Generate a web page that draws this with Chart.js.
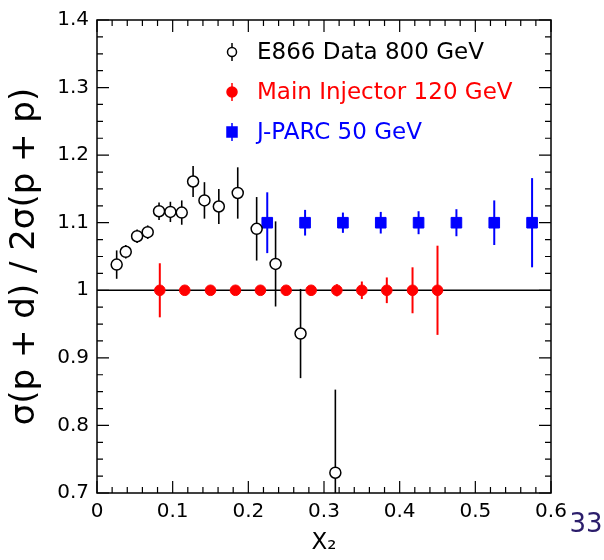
<!DOCTYPE html>
<html>
<head>
<meta charset="utf-8">
<script src="https://cdn.jsdelivr.net/npm/chart.js@4.4.0/dist/chart.umd.min.js"></script>
<style>
    html, body { margin: 0; padding: 0; background: #fff; }
</style>
</head>
<body>
<canvas id="grafica-ratio" width="604" height="560"></canvas>
<script>
// E866, 800 GeV
const e866X = [0.026, 0.038, 0.053, 0.067, 0.082, 0.097, 0.112, 0.127, 0.142, 0.161, 0.186, 0.211, 0.236, 0.269, 0.315];
const e866Y = [1.038, 1.057, 1.080, 1.086, 1.117, 1.116, 1.115, 1.161, 1.133, 1.124, 1.144, 1.091, 1.039, 0.936, 0.730];
const e866Err = [0.021, 0.010, 0.010, 0.010, 0.013, 0.015, 0.018, 0.023, 0.027, 0.026, 0.038, 0.047, 0.063, 0.066, 0.123];

// Main Injector, 120 GeV
const miX = [0.083, 0.116, 0.150, 0.183, 0.216, 0.250, 0.283, 0.317, 0.350, 0.383, 0.417, 0.450];
const miY = [1, 1, 1, 1, 1, 1, 1, 1, 1, 1, 1, 1];
const miErr = [0.040, 0.004, 0.004, 0.004, 0.004, 0.004, 0.005, 0.009, 0.013, 0.019, 0.034, 0.066];

// J-PARC, 50 GeV
const jparcX = [0.225, 0.275, 0.325, 0.375, 0.425, 0.475, 0.525, 0.575];
const jparcY = [1.1, 1.1, 1.1, 1.1, 1.1, 1.1, 1.1, 1.1];
const jparcErr = [0.045, 0.019, 0.015, 0.016, 0.017, 0.020, 0.033, 0.066];

const xTickLabels = ['0', '0.1', '0.2', '0.3', '0.4', '0.5', '0.6'];
const yTickLabels = ['0.7', '0.8', '0.9', '1', '1.1', '1.2', '1.3', '1.4'];
const leyendas = ['E866 Data 800 GeV', 'Main Injector 120 GeV', 'J-PARC 50 GeV'];
const lineaUno = [1, 1];
const numPagina = '33';

const FUENTE = '"DejaVu Sans", sans-serif';

function puntos(xs, ys) {
    return xs.map((x, i) => ({ x: x, y: ys[i] }));
}

// barras de error, a traves de las escalas
const errorBars = {
    id: 'errorBars',
    beforeDatasetsDraw(chart) {
        const { ctx, chartArea, scales } = chart;
        ctx.save();
        ctx.beginPath();
        ctx.rect(chartArea.left, chartArea.top, chartArea.width, chartArea.height);
        ctx.clip();
        chart.data.datasets.forEach(ds => {
            if (!ds.errores) return;
            ctx.strokeStyle = ds.colorError;
            ctx.lineWidth = ds.anchoError;
            ds.data.forEach((p, i) => {
                const px = scales.x.getPixelForValue(p.x);
                ctx.beginPath();
                ctx.moveTo(px, scales.y.getPixelForValue(p.y - ds.errores[i]));
                ctx.lineTo(px, scales.y.getPixelForValue(p.y + ds.errores[i]));
                ctx.stroke();
            });
        });
        ctx.restore();
    }
};

// marco y marcas hacia dentro, estilo ROOT
const marco = {
    id: 'marco',
    afterDatasetsDraw(chart) {
        const { ctx, chartArea: a, scales } = chart;
        ctx.save();
        ctx.strokeStyle = '#000';
        ctx.lineWidth = 1.5;
        ctx.strokeRect(a.left, a.top, a.right - a.left, a.bottom - a.top);
        ctx.lineWidth = 1.2;
        for (let k = 0; k <= 30; k++) {
            const v = k * 0.02;
            const px = scales.x.getPixelForValue(v);
            const largo = k % 5 === 0 ? 12 : 6;
            ctx.beginPath();
            ctx.moveTo(px, a.bottom); ctx.lineTo(px, a.bottom - largo);
            ctx.moveTo(px, a.top); ctx.lineTo(px, a.top + largo);
            ctx.stroke();
        }
        for (let k = 0; k <= 28; k++) {
            const v = 0.7 + k * 0.025;
            const py = scales.y.getPixelForValue(v);
            const largo = k % 4 === 0 ? 12 : 6;
            ctx.beginPath();
            ctx.moveTo(a.left, py); ctx.lineTo(a.left + largo, py);
            ctx.moveTo(a.right, py); ctx.lineTo(a.right - largo, py);
            ctx.stroke();
        }
        ctx.restore();
    }
};

const leyenda = {
    id: 'leyenda',
    afterDraw(chart) {
        const { ctx } = chart;
        ctx.save();
        ctx.font = '23px ' + FUENTE;
        ctx.textBaseline = 'middle';
        leyendas.forEach((nombre, i) => {
            const ds = chart.data.datasets.find(d => d.label === nombre);
            const x = 232, y = 52 + i * 40;
            ctx.strokeStyle = ds.colorError;
            ctx.lineWidth = 1.5;
            ctx.beginPath();
            ctx.moveTo(x, y - 9); ctx.lineTo(x, y + 9);
            ctx.stroke();
            ctx.fillStyle = ds.pointBackgroundColor;
            ctx.strokeStyle = ds.pointBorderColor;
            ctx.lineWidth = 1.5;
            ctx.beginPath();
            if (ds.pointStyle === 'rect') {
                ctx.rect(x - 5, y - 5, 10, 10);
            } else {
                ctx.arc(x, y, ds.pointBackgroundColor === '#ffffff' ? 4.5 : 5, 0, Math.PI * 2);
            }
            ctx.fill();
            ctx.stroke();
            ctx.fillStyle = ds.colorError;
            ctx.fillText(ds.label, 257, y + 1);
        });
        // numero de pagina
        ctx.font = '26px ' + FUENTE;
        ctx.fillStyle = '#2b1d6b';
        ctx.textAlign = 'center';
        ctx.fillText(numPagina, 586, 525);
        ctx.restore();
    }
};

const ctx = document.getElementById('grafica-ratio').getContext('2d');
new Chart(ctx, {
    type: 'scatter',
    data: {
        datasets: [
            {
                label: leyendas[1],
                data: puntos(miX, miY),
                errores: miErr,
                colorError: '#ff0000',
                anchoError: 2,
                pointStyle: 'circle',
                pointRadius: 5.3,
                pointBackgroundColor: '#ff0000',
                pointBorderColor: '#ff0000',
                pointBorderWidth: 1,
                order: 1
            },
            {
                label: leyendas[0],
                data: puntos(e866X, e866Y),
                errores: e866Err,
                colorError: '#000000',
                anchoError: 1.6,
                pointStyle: 'circle',
                pointRadius: 5.5,
                pointBackgroundColor: '#ffffff',
                pointBorderColor: '#000000',
                pointBorderWidth: 1.5,
                order: 2
            },
            {
                label: leyendas[2],
                data: puntos(jparcX, jparcY),
                errores: jparcErr,
                colorError: '#0000ff',
                anchoError: 2,
                pointStyle: 'rect',
                pointRadius: 7.5,
                pointBackgroundColor: '#0000ff',
                pointBorderColor: '#0000ff',
                pointBorderWidth: 1,
                order: 3
            },
            {
                type: 'line',
                label: 'uno',
                data: puntos([0, 0.6], lineaUno),
                borderColor: '#000',
                borderWidth: 1.5,
                pointRadius: 0,
                order: 4
            }
        ]
    },
    options: {
        responsive: false,
        animation: false,
        layout: { padding: { left: 0, right: 53, top: 19, bottom: 0 } },
        plugins: {
            legend: { display: false },
            tooltip: { enabled: false }
        },
        scales: {
            x: {
                type: 'linear',
                min: 0,
                max: 0.6,
                grid: { display: false, drawTicks: false },
                border: { display: false },
                ticks: {
                    stepSize: 0.1,
                    padding: 7,
                    color: '#000',
                    font: { family: FUENTE, size: 20 },
                    callback: (v, i) => xTickLabels[i]
                },
                title: {
                    display: true,
                    text: 'X₂',
                    color: '#000',
                    font: { family: FUENTE, size: 23 },
                    padding: { top: 0, bottom: 3 }
                },
                afterFit: scale => { scale.height = 67; }
            },
            y: {
                type: 'linear',
                min: 0.7,
                max: 1.4,
                grid: { display: false, drawTicks: false },
                border: { display: false },
                ticks: {
                    stepSize: 0.1,
                    padding: 8,
                    color: '#000',
                    font: { family: FUENTE, size: 20 },
                    callback: (v, i) => yTickLabels[i]
                },
                title: {
                    display: true,
                    text: 'σ(p + d) / 2σ(p + p)',
                    color: '#000',
                    font: { family: FUENTE, size: 34, lineHeight: 1.2 },
                    padding: { top: 5, bottom: 0 }
                },
                afterFit: scale => { scale.width = 97; }
            }
        }
    },
    plugins: [errorBars, marco, leyenda]
});
</script>
</body>
</html>
